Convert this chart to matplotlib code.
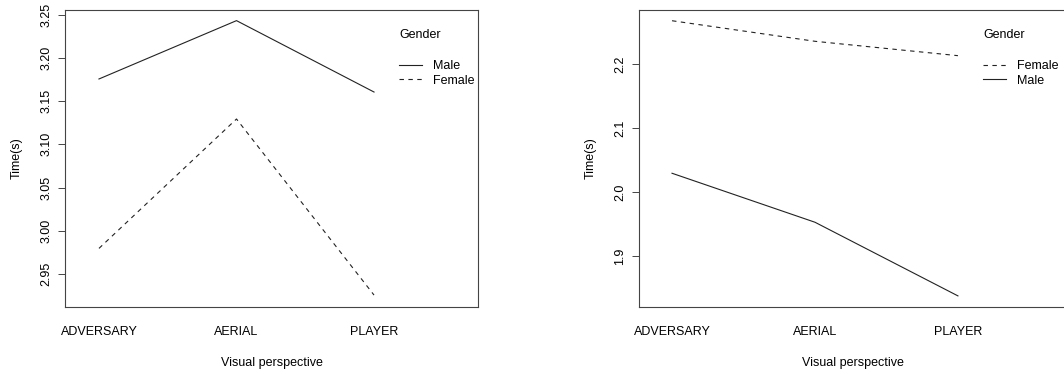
import matplotlib
matplotlib.use("Agg")
import matplotlib.pyplot as plt
from matplotlib.lines import Line2D
from matplotlib.ticker import FixedLocator, FormatStrFormatter

plt.rcParams['font.family'] = ['Liberation Sans', 'DejaVu Sans']

categories = ["ADVERSARY", "AERIAL", "PLAYER"]

# Left panel
left_male = [3.1756, 3.2431, 3.1605]
left_female = [2.9796, 3.1293, 2.9256]
left_yticks = [2.95, 3.00, 3.05, 3.10, 3.15, 3.20, 3.25]

# Right panel
right_female = [2.2682, 2.2360, 2.2135]
right_male = [2.0294, 1.9527, 1.8374]
right_yticks = [1.9, 2.0, 2.1, 2.2]

W, H = 1064, 374
fig = plt.figure(figsize=(W / 100, H / 100), dpi=100)

FS = 9
col = '#222222'
dash = (0, (4, 4))


def make_panel(rect, series, ylim, yticks, fmt, xlim, legend_xy):
    ax = fig.add_axes(rect)
    x = list(range(1, len(categories) + 1))
    handles = []
    for label, vals, ls in series:
        ax.plot(x, vals, color=col, lw=0.8, linestyle=ls)
        handles.append((Line2D([], [], color=col, lw=0.8, linestyle=ls), label))
    ax.set_xlim(*xlim)
    ax.set_ylim(*ylim)
    ax.set_xticks(x)
    ax.set_xticklabels(categories, fontsize=FS)
    ax.tick_params(axis='x', length=0, pad=13.5)
    ax.yaxis.set_major_locator(FixedLocator(yticks))
    ax.yaxis.set_major_formatter(FormatStrFormatter(fmt))
    ax.tick_params(axis='y', length=5, width=0.7, color='#444444', pad=4,
                   labelsize=FS, labelrotation=90)
    for lbl in ax.get_yticklabels():
        lbl.set_va('center')
    for sp in ax.spines.values():
        sp.set_color('#444444')
        sp.set_linewidth(0.8)
    ax.set_xlabel("Visual perspective", fontsize=FS, labelpad=14)
    ax.set_ylabel("Time(s)", fontsize=FS, labelpad=12.5)
    # legend
    lx, ly = legend_xy
    fig.text(lx / W, 1 - ly / H, "Gender", fontsize=FS, ha='left', va='center')
    fig.legend([h for h, _ in handles], [l for _, l in handles],
               loc='upper left', bbox_to_anchor=(lx / W, 1 - (ly + 25) / H),
               bbox_transform=fig.transFigure, frameon=False, fontsize=FS,
               handlelength=1.8, handletextpad=0.9, labelspacing=0.22,
               borderpad=0, borderaxespad=0)
    return ax


make_panel([65 / W, 1 - 307 / H, 413 / W, 297 / H],
           [("Male", left_male, '-'), ("Female", left_female, dash)],
           (2.9118, 3.2554), left_yticks, '%.2f', (0.753, 3.756), (399, 35))

make_panel([639 / W, 1 - 307 / H, 427 / W, 297 / H],
           [("Female", right_female, dash), ("Male", right_male, '-')],
           (1.820, 2.285), right_yticks, '%.1f', (0.769, 3.756), (983, 35))

fig.savefig("out.png", dpi=100)
